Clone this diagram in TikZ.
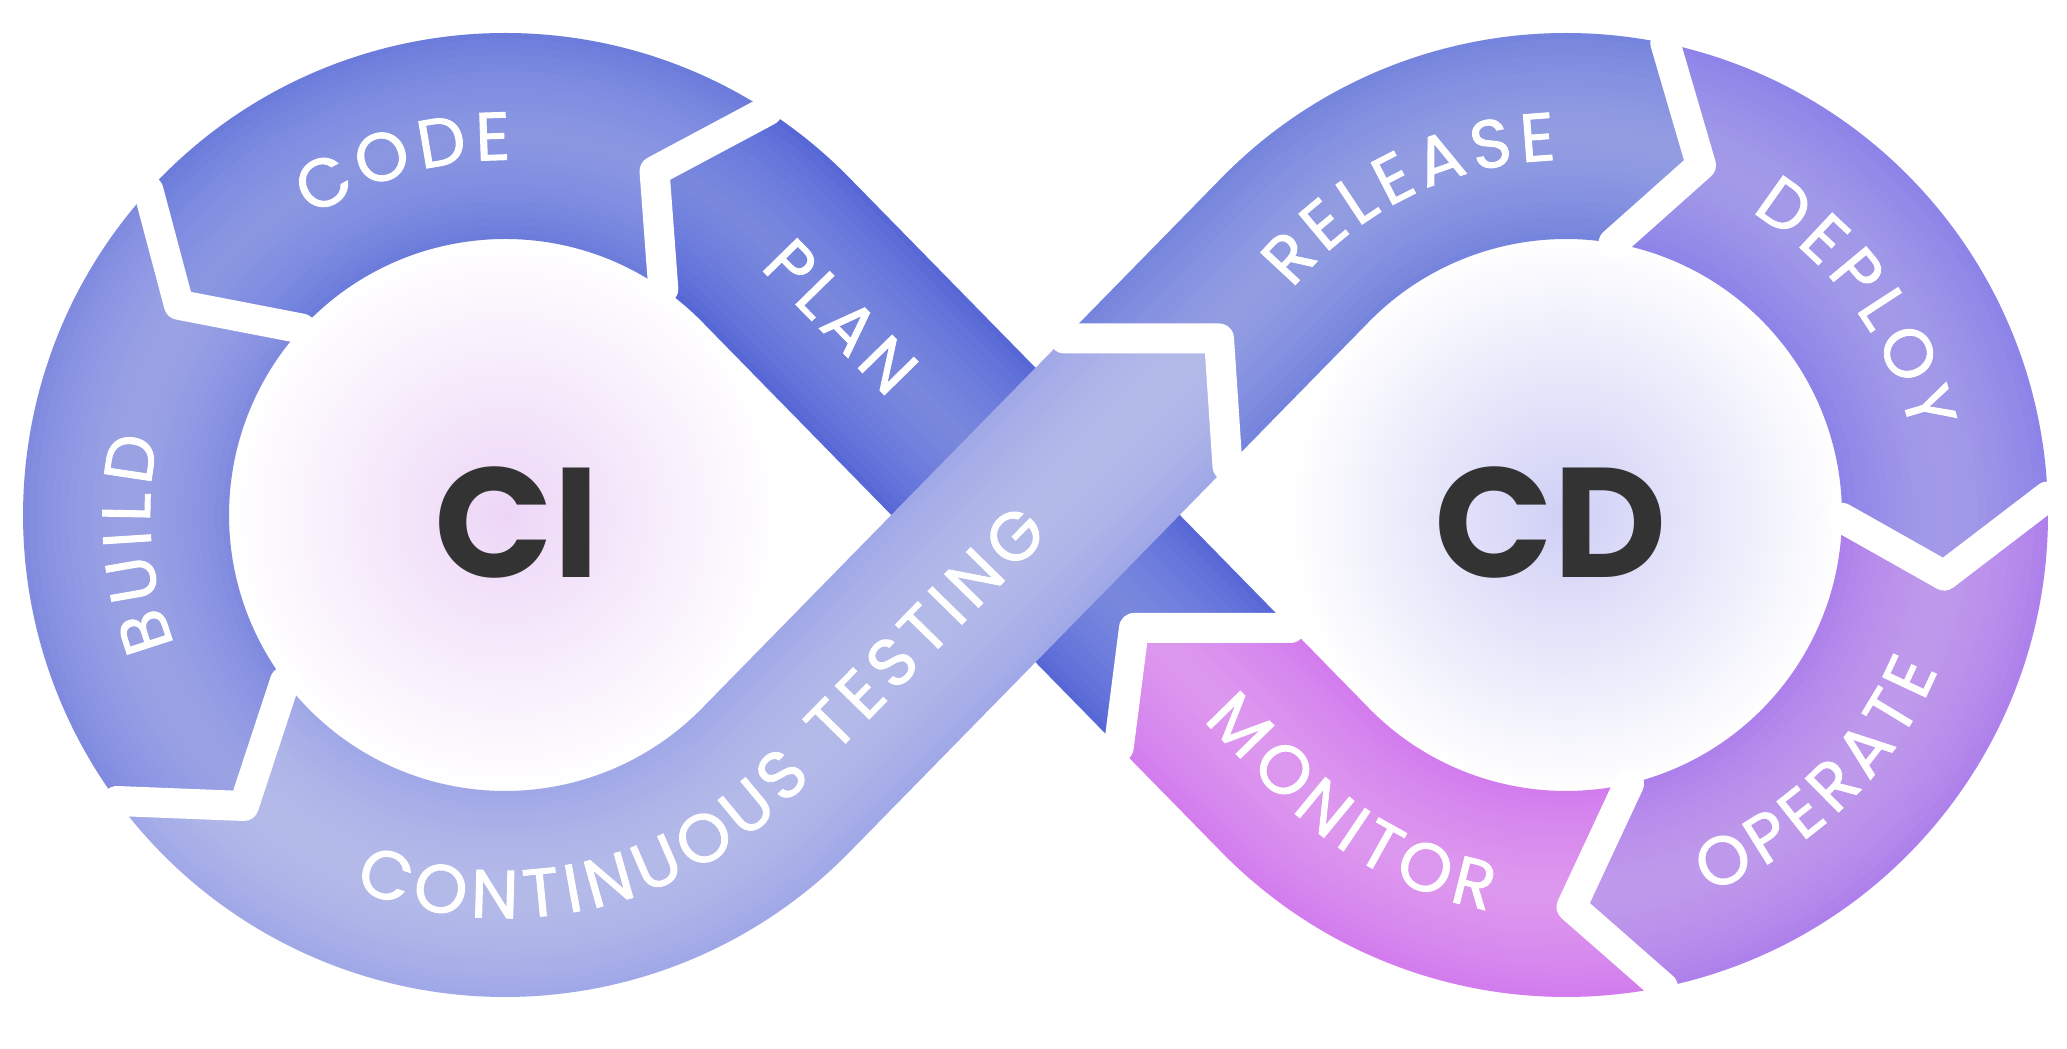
\documentclass[tikz,border=0pt]{standalone}
\usepackage{fontspec}
\setmainfont{Poppins}
\newfontfamily\lblfont{Poppins}[FakeBold=1.3]
\usetikzlibrary{calc,decorations.text}
\definecolor{planB}{HTML}{5264D5}\definecolor{planL}{HTML}{97A2EA}
\definecolor{codeB}{HTML}{6878DA}\definecolor{codeL}{HTML}{A5AEEE}
\definecolor{buildB}{HTML}{7C88DE}\definecolor{buildL}{HTML}{B3B9F0}
\definecolor{ctB}{HTML}{9DA6E6}\definecolor{ctL}{HTML}{C9CDF5}
\definecolor{relB}{HTML}{7181DB}\definecolor{relL}{HTML}{ABB3EE}
\definecolor{depB}{HTML}{8A80E8}\definecolor{depL}{HTML}{B8B1F4}
\definecolor{opB}{HTML}{AC7DEB}\definecolor{opL}{HTML}{D1B0F6}
\definecolor{monB}{HTML}{D178EE}\definecolor{monL}{HTML}{E9B0F5}
\definecolor{ciIn}{HTML}{EDD6F7}
\definecolor{cdIn}{HTML}{CFCFF6}
\definecolor{txt}{HTML}{333333}
\newcommand\lbl{\lblfont\fontsize{68}{68}\selectfont\color{white}}
\newcommand\bandpiece[4]{%
  \fill[#1] #3;
  \begin{scope}
    \clip #3;
    \foreach \w in {210,194,...,18}{\draw[#2,line width=\w pt,opacity=.075,line cap=round] #4;}
  \end{scope}}
\begin{document}
\begin{tikzpicture}[x=1pt,y=1pt,
  gap/.style={draw=white,line width=30pt,line join=round,line cap=round}]
\useasboundingbox (0,0) rectangle (2067,1049);
\fill[white] (0,0) rectangle (2067,1049);
\coordinate (C1) at (505,534);
\coordinate (C2) at (1566,534);
\coordinate (M) at (1035.5,534);
% strip edges
\coordinate (P1o) at ($(C1)+(-44.41:482)$);
\coordinate (P1i) at ($(C1)+(-44.41:276)$);
\coordinate (Q1o) at ($(C2)+(135.59:482)$);
\coordinate (Q1i) at ($(C2)+(135.59:276)$);
\coordinate (P2o) at ($(C1)+(44.41:482)$);
\coordinate (P2i) at ($(C1)+(44.41:276)$);
\coordinate (Q2o) at ($(C2)+(-135.59:482)$);
\coordinate (Q2i) at ($(C2)+(-135.59:276)$);
% boundaries
\coordinate (b1o) at ($(C1)+(57:482)$);
\coordinate (b1c) at ($(C1)+(66.5:375)$);
\coordinate (b1i) at ($(C1)+(55:276)$);
\coordinate (b2o) at ($(C1)+(137.7:482)$);
\coordinate (b2c) at ($(C1)+(147.2:388)$);
\coordinate (b2i) at ($(C1)+(137.5:276)$);
\coordinate (b3o) at ($(C1)+(216.4:482)$);
\coordinate (b3c) at ($(C1)+(228.1:391)$);
\coordinate (b3i) at ($(C1)+(217.1:276)$);
\coordinate (h1) at (900,710.5);
\coordinate (h2) at (1400,710.5);
\coordinate (b4l) at (intersection of P1i--Q1o and h1--h2);
\coordinate (b4c) at (1219,710.5);
\coordinate (v2) at (1233,500);
\coordinate (b4r) at (intersection of P1o--Q1i and b4c--v2);
\coordinate (b5o) at ($(C2)+(78.1:482)$);
\coordinate (b5c) at ($(C2)+(68.9:375)$);
\coordinate (b5i) at ($(C2)+(80.1:276)$);
\coordinate (b6o) at ($(C2)+(2.2:482)$);
\coordinate (b6c) at ($(C2)+(-9.1:383)$);
\coordinate (b6i) at ($(C2)+(-0.6:276)$);
\coordinate (b7o) at ($(C2)+(-78.4:482)$);
\coordinate (b7c) at ($(C2)+(-89.2:392)$);
\coordinate (b7i) at ($(C2)+(-76.8:276)$);
\coordinate (h3) at (900,421);
\coordinate (h4) at (1500,421);
\coordinate (b8i) at (intersection of P2o--Q2i and h3--h4);
\coordinate (b8c) at (1134,421);
\coordinate (v4) at (1116,280);
\coordinate (b8o) at (intersection of P2i--Q2o and b8c--v4);
% inner discs
\shade[inner color=ciIn, outer color=white] (C1) circle[radius=276];
\shade[inner color=cdIn, outer color=white] (C2) circle[radius=276];
% PLAN
\bandpiece{planB}{planL}
 {(b8o) -- (P2i) arc[start angle=44.41,end angle=55,radius=276] -- (b1c) -- (b1o) arc[start angle=57,end angle=44.41,radius=482] -- (b8i) -- (b8c) -- cycle}
 {($(C2)+(-135.59:379)$) -- ($(C1)+(44.41:379)$) arc[start angle=44.41,end angle=80,radius=379]}
% CODE
\bandpiece{codeB}{codeL}
 {(b1o) arc[start angle=57,end angle=137.7,radius=482] -- (b2c) -- (b2i) arc[start angle=137.5,end angle=55,radius=276] -- (b1c) -- cycle}
 {($(C1)+(40:379)$) arc[start angle=40,end angle=155,radius=379]}
% BUILD
\bandpiece{buildB}{buildL}
 {(b2o) arc[start angle=137.7,end angle=216.4,radius=482] -- (b3c) -- (b3i) arc[start angle=217.1,end angle=137.5,radius=276] -- (b2c) -- cycle}
 {($(C1)+(125:379)$) arc[start angle=125,end angle=240,radius=379]}
% RELEASE
\bandpiece{relB}{relL}
 {(b4l) -- (Q1o) arc[start angle=135.59,end angle=78.1,radius=482] -- (b5c) -- (b5i) arc[start angle=80.1,end angle=135.59,radius=276] -- (b4r) -- (b4c) -- cycle}
 {(M) -- ($(C2)+(135.59:379)$) arc[start angle=135.59,end angle=60,radius=379]}
% DEPLOY
\bandpiece{depB}{depL}
 {(b5o) arc[start angle=78.1,end angle=2.2,radius=482] -- (b6c) -- (b6i) arc[start angle=-0.6,end angle=80.1,radius=276] -- (b5c) -- cycle}
 {($(C2)+(90:379)$) arc[start angle=90,end angle=-20,radius=379]}
% OPERATE
\bandpiece{opB}{opL}
 {(b6o) arc[start angle=2.2,end angle=-78.4,radius=482] -- (b7c) -- (b7i) arc[start angle=-76.8,end angle=-0.6,radius=276] -- (b6c) -- cycle}
 {($(C2)+(10:379)$) arc[start angle=10,end angle=-100,radius=379]}
% MONITOR
\bandpiece{monB}{monL}
 {(b7o) arc[start angle=-78.4,end angle=-135.59,radius=482] -- (b8o) -- (b8c) -- (b8i) -- (Q2i) arc[start angle=-135.59,end angle=-76.8,radius=276] -- (b7c) -- cycle}
 {($(C2)+(-65:379)$) arc[start angle=-65,end angle=-135.59,radius=379] -- (M)}
% CONTINUOUS TESTING (on top)
\bandpiece{ctB}{ctL}
 {(b3o) arc[start angle=216.4,end angle=315.59,radius=482] -- (b4r) -- (b4c) -- (b4l) -- (P1i) arc[start angle=315.59,end angle=217.1,radius=276] -- (b3c) -- cycle}
 {($(C1)+(205:379)$) arc[start angle=205,end angle=315.59,radius=379] -- ($(C2)+(135.59:379)$)}
% gaps
\draw[gap] (b1o) -- (b1c) -- (b1i);
\draw[gap] (b2o) -- (b2c) -- (b2i);
\draw[gap] (b3o) -- (b3c) -- (b3i);
\draw[gap] (b4l) -- (b4c) -- (b4r);
\draw[gap] (b5o) -- (b5c) -- (b5i);
\draw[gap] (b6o) -- (b6c) -- (b6i);
\draw[gap] (b7o) -- (b7c) -- (b7i);
\draw[gap] (b8i) -- (b8c) -- (b8o);
% labels
\path[decorate,decoration={text along path,text align=center,
  text={|\lbl|C{\kern7pt}O{\kern7pt}D{\kern7pt}E}}]
  ($(C1)+(146:355)$) arc[start angle=146,end angle=66,radius=355];
\path[decorate,decoration={text along path,text align=center,
  text={|\lbl|B{\kern7pt}U{\kern7pt}I{\kern7pt}L{\kern7pt}D}}]
  ($(C1)+(224.5:355)$) arc[start angle=224.5,end angle=144.5,radius=355];
\path[decorate,decoration={text along path,
  text={|\lbl|C{\kern7pt}O{\kern7pt}N{\kern7pt}T{\kern7pt}I{\kern7pt}N{\kern7pt}U{\kern7pt}O{\kern7pt}U{\kern7pt}S{\kern7pt} {\kern7pt}T{\kern7pt}E{\kern7pt}S{\kern7pt}T{\kern7pt}I{\kern7pt}N{\kern7pt}G}}]
  ($(C1)+(248:403)$) arc[start angle=248,end angle=315.59,radius=403] -- ++(45.59:700);
\path[decorate,decoration={text along path,text align=center,
  text={|\lbl|P{\kern7pt}L{\kern7pt}A{\kern7pt}N}}]
  ($(M)+(134.41:430)+(224.41:24)$) -- ($(M)+(134.41:126)+(224.41:24)$);
\path[decorate,decoration={text along path,text align=center,
  text={|\lbl|R{\kern7pt}E{\kern7pt}L{\kern7pt}E{\kern7pt}A{\kern7pt}S{\kern7pt}E}}]
  ($(C2)+(166:355)$) arc[start angle=166,end angle=66,radius=355];
\path[decorate,decoration={text along path,text align=center,
  text={|\lbl|D{\kern7pt}E{\kern7pt}P{\kern7pt}L{\kern7pt}O{\kern7pt}Y}}]
  ($(C2)+(86:355)$) arc[start angle=86,end angle=-14,radius=355];
\path[decorate,decoration={text along path,text align=center,
  text={|\lbl|O{\kern7pt}P{\kern7pt}E{\kern7pt}R{\kern7pt}A{\kern7pt}T{\kern7pt}E}}]
  ($(C2)+(-96:403)$) arc[start angle=-96,end angle=4,radius=403];
\path[decorate,decoration={text along path,text align=center,
  text={|\lbl|M{\kern7pt}O{\kern7pt}N{\kern7pt}I{\kern7pt}T{\kern7pt}O{\kern7pt}R}}]
  ($(C2)+(224.41:403)+(134.41:150)$) -- ($(C2)+(224.41:403)$) arc[start angle=224.41,end angle=265,radius=403];
\node[font=\fontsize{156}{156}\selectfont\bfseries,text=txt,inner sep=0pt] (ci) at (517,526) {CI};
\node[font=\fontsize{156}{156}\selectfont\bfseries,text=txt,inner sep=0pt] (cd) at (1551,526) {CD};
\end{tikzpicture}
\end{document}
